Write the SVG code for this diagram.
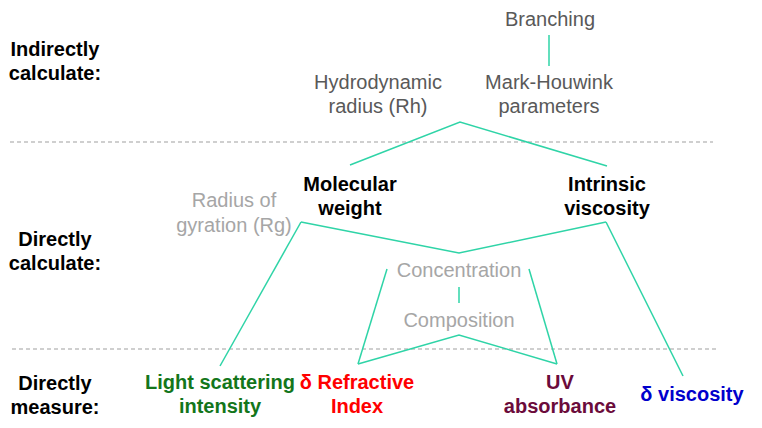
<svg xmlns="http://www.w3.org/2000/svg" width="762" height="428" viewBox="0 0 762 428">
<style>
text{font-family:"Liberation Sans",Arial,sans-serif;font-size:20px;text-anchor:middle}
.b{font-weight:bold}
.k{fill:#000}
.g1{fill:#595959}
.g2{fill:#a6a6a6}
.c{stroke:#2fd4a7;stroke-width:1.5;fill:none}
.d{stroke:#a0a0a0;stroke-width:1.2;stroke-dasharray:4 3;fill:none}
</style>
<rect width="762" height="428" fill="#fff"/>
<g id="dividers">
<line class="d" x1="10" y1="142" x2="713" y2="142"/>
<line class="d" x1="12" y1="349" x2="718" y2="349"/>
</g>
<g id="connectors">
<line class="c" x1="549" y1="35" x2="549" y2="66"/>
<polyline class="c" points="350,165 460,122 607,166"/>
<polyline class="c" points="301,222 459,253 606,222"/>
<line class="c" x1="301" y1="222" x2="220" y2="366"/>
<line class="c" x1="606" y1="222" x2="683" y2="376"/>
<line class="c" x1="387" y1="269" x2="358" y2="364"/>
<line class="c" x1="529" y1="269" x2="557" y2="364"/>
<line class="c" x1="459" y1="287" x2="459" y2="303"/>
<polyline class="c" points="358,364 459,335 557,364"/>
</g>
<g id="lbl-indirect"><text class="b k" x="55" y="56">Indirectly</text><text class="b k" x="55" y="80">calculate:</text></g>
<g id="lbl-dcalc"><text class="b k" x="55" y="246">Directly</text><text class="b k" x="55" y="270">calculate:</text></g>
<g id="lbl-dmeas"><text class="b k" x="55" y="390">Directly</text><text class="b k" x="55" y="414">measure:</text></g>
<g id="branching"><text class="g1" x="550" y="26">Branching</text></g>
<g id="rh"><text class="g1" x="378" y="89">Hydrodynamic</text><text class="g1" x="378" y="113">radius (Rh)</text></g>
<g id="mh"><text class="g1" x="549" y="89">Mark-Houwink</text><text class="g1" x="549" y="113">parameters</text></g>
<g id="mw"><text class="b k" x="350" y="191">Molecular</text><text class="b k" x="350" y="215">weight</text></g>
<g id="iv"><text class="b k" x="607" y="191">Intrinsic</text><text class="b k" x="607" y="215">viscosity</text></g>
<g id="rg"><text class="g2" x="234" y="207">Radius of</text><text class="g2" x="234" y="232">gyration (Rg)</text></g>
<g id="conc"><text class="g2" x="459" y="277">Concentration</text></g>
<g id="comp"><text class="g2" x="459" y="327">Composition</text></g>
<g id="ls"><text class="b" fill="#13761b" x="220" y="389">Light scattering</text><text class="b" fill="#13761b" x="220" y="413">intensity</text></g>
<g id="ri"><text class="b" fill="#ff0000" x="357" y="389">δ Refractive</text><text class="b" fill="#ff0000" x="357" y="413">Index</text></g>
<g id="uv"><text class="b" fill="#6b0b3b" x="560" y="389">UV</text><text class="b" fill="#6b0b3b" x="560" y="413">absorbance</text></g>
<g id="dv"><text class="b" fill="#0000cc" x="692" y="401">δ viscosity</text></g>
</svg>
